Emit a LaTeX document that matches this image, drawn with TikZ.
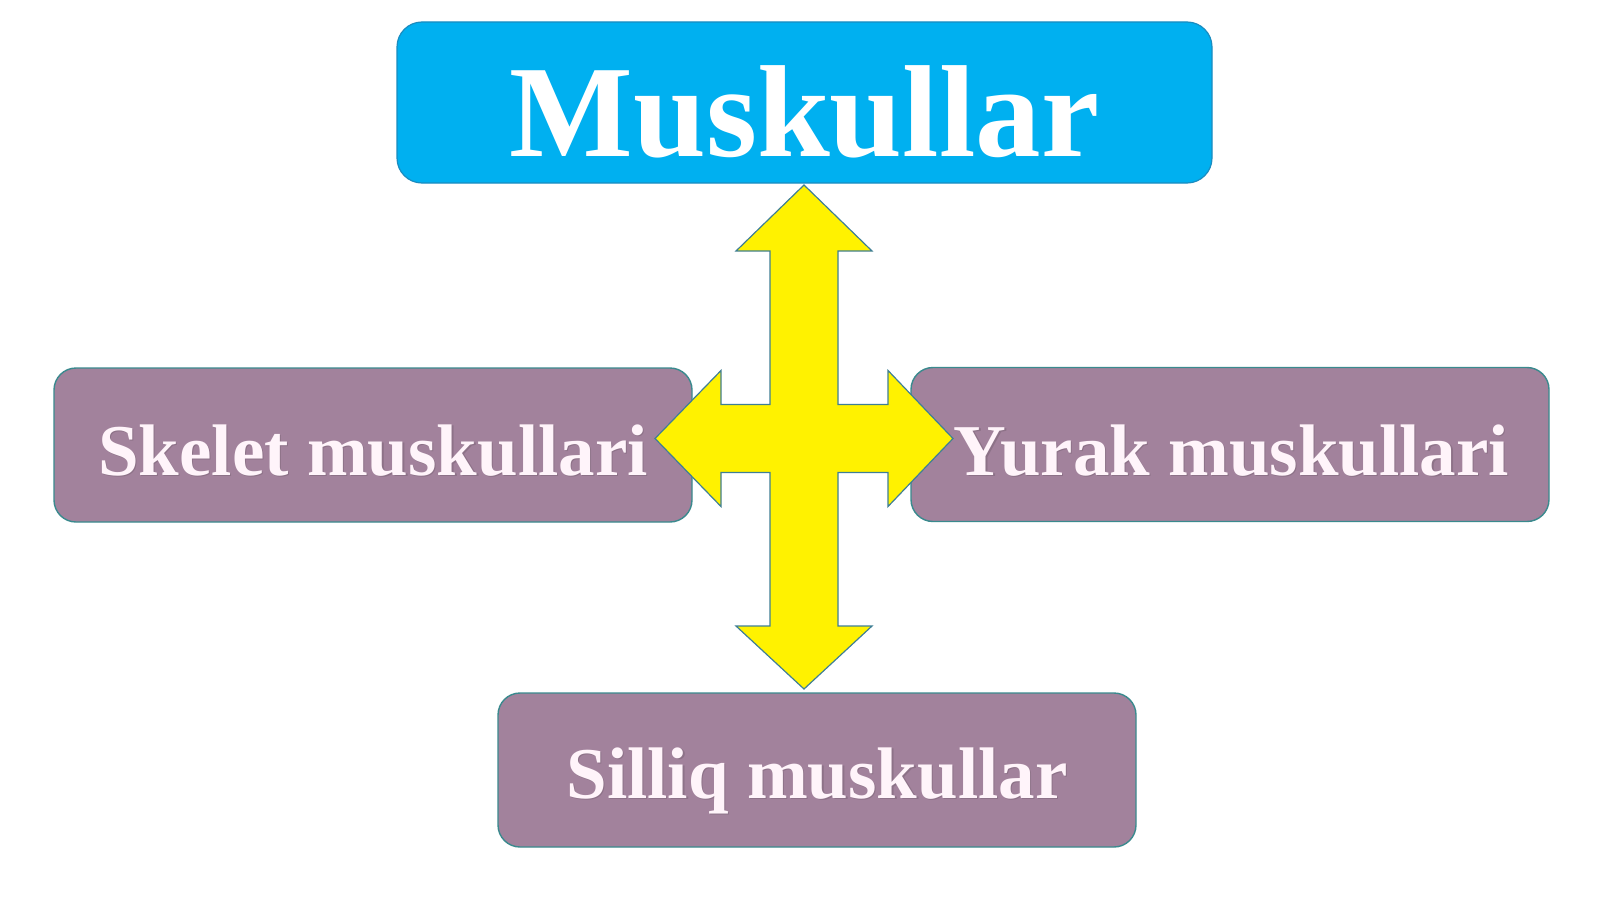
\documentclass[tikz,border=0pt]{standalone}
\usepackage{fontspec}
\setmainfont{Liberation Serif}
\definecolor{topblue}{HTML}{00B0F0}
\definecolor{topedge}{HTML}{1A8CC0}
\definecolor{mauve}{HTML}{A2829C}
\definecolor{mauveedge}{HTML}{3A8A8E}
\definecolor{arrowedge}{HTML}{3F7F95}
\definecolor{txtshadow}{HTML}{6E5A6A}
\definecolor{paletext}{HTML}{FFF4FA}
\tikzset{
  topbox/.style={rounded corners=12.5pt, fill=topblue, draw=topedge, line width=0.6pt,
    minimum width=407.5pt, minimum height=80.5pt, inner sep=0pt},
  subbox/.style={rounded corners=11pt, fill=mauve, draw=mauveedge, line width=0.7pt,
    minimum width=319pt, minimum height=77pt, inner sep=0pt},
  toptext/.style={anchor=base, inner sep=0pt, text=white,
    font=\fontsize{65.5}{70}\selectfont\bfseries},
  subtext/.style={anchor=base, inner sep=0pt, text=paletext,
    font=\fontsize{36.5}{40}\selectfont\bfseries},
  subshadow/.style={anchor=base, inner sep=0pt, text=txtshadow, opacity=0.4,
    font=\fontsize{36.5}{40}\selectfont\bfseries},
  crossarrow/.style={fill=yellow, draw=arrowedge, line width=0.6pt, line join=miter}
}
\begin{document}
\begin{tikzpicture}[x=0.5pt, y=-0.5pt]
\useasboundingbox[fill=white] (0,0) rectangle (1600,899);
% boxes
\node[topbox] (top) at (804.5,102.5) {};
\node[subbox] (skel) at (373,445) {};
\node[subbox] (yur) at (1230,444.5) {};
\node[subbox] (sil) at (817,770) {};
% texts
\node[toptext] (ttop) at (804.5,156.5) {Muskullar};
\node[subshadow] (sskel) at (374.2,476.2) {Skelet muskullari};
\node[subtext] (tskel) at (373,475) {Skelet muskullari};
\node[subshadow] (syur) at (1232.7,476.2) {Yurak muskullari};
\node[subtext] (tyur) at (1231.5,475) {Yurak muskullari};
\node[subshadow] (ssil) at (818.2,799.2) {Silliq muskullar};
\node[subtext] (tsil) at (817,798) {Silliq muskullar};
% four-way arrow
\coordinate (c) at (804,438.5);
\draw[crossarrow]
  (804,185) -- (872,251) -- (838,251) -- (838,404.5) -- (888,404.5) -- (888,370.5)
  -- (953,438.5) -- (888,506.5) -- (888,472.5) -- (838,472.5) -- (838,626)
  -- (872,626) -- (804,689) -- (736,626) -- (770,626) -- (770,472.5)
  -- (721,472.5) -- (721,506.5) -- (655,438.5) -- (721,370.5) -- (721,404.5)
  -- (770,404.5) -- (770,251) -- (736,251) -- cycle;
\end{tikzpicture}
\end{document}
